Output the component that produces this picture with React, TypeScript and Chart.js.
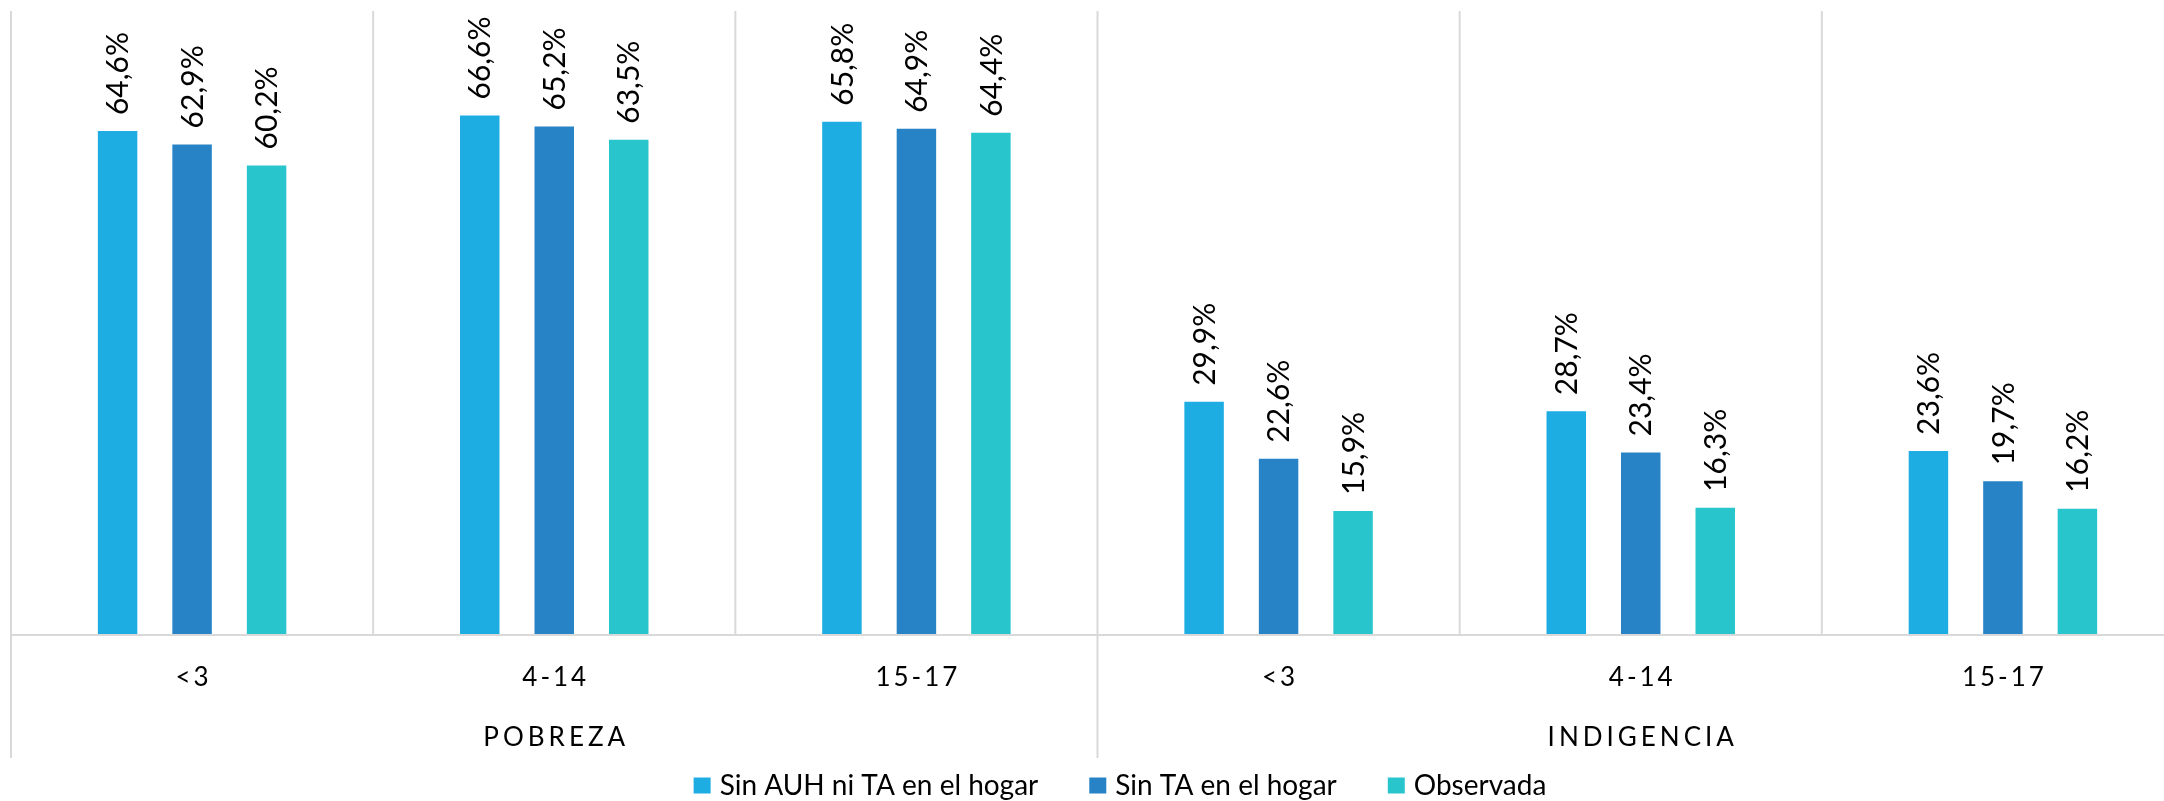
import React, { useEffect, useRef } from 'react';
import { Chart, registerables } from 'chart.js';

Chart.register(...registerables);

const categories = ['<3', '4-14', '15-17', '<3', '4-14', '15-17'];
const groups = ['POBREZA', 'INDIGENCIA'];
const seriesNames = ['Sin AUH ni TA en el hogar', 'Sin TA en el hogar', 'Observada'];
const sinAuhNiTa = [64.6, 66.6, 65.8, 29.9, 28.7, 23.6];
const sinTa = [62.9, 65.2, 64.9, 22.6, 23.4, 19.7];
const observada = [60.2, 63.5, 64.4, 15.9, 16.3, 16.2];
const colors = ['#1EADE3', '#2783C6', '#28C5CC'];

const W = 2186;
const H = 801;
const FONT = 'Lato, "Open Sans", sans-serif';

const fmt = (v: number) => v.toFixed(1).replace('.', ',') + '%';

const overlay = {
  id: 'overlay',
  beforeDatasetsDraw(chart: any) {
    const ctx = chart.ctx;
    const xs = chart.scales.x;
    const area = chart.chartArea;
    const n = categories.length;
    const cw = (area.right - area.left) / n;
    ctx.save();
    ctx.strokeStyle = '#D9D9D9';
    ctx.lineWidth = 2;
    for (let i = 0; i <= n; i++) {
      const px = i < n ? xs.getPixelForValue(i) - cw / 2 : xs.getPixelForValue(n - 1) + cw / 2;
      const long = i % 3 === 0;
      ctx.beginPath();
      ctx.moveTo(px, area.top);
      ctx.lineTo(px, long ? 758 : area.bottom);
      ctx.stroke();
    }
    ctx.restore();
  },
  afterDatasetsDraw(chart: any) {
    const ctx = chart.ctx;
    const xs = chart.scales.x;
    const area = chart.chartArea;
    ctx.save();
    // baseline
    ctx.strokeStyle = '#D9D9D9';
    ctx.lineWidth = 2;
    ctx.beginPath();
    ctx.moveTo(area.left, area.bottom);
    ctx.lineTo(area.right, area.bottom);
    ctx.stroke();

    // data labels
    ctx.fillStyle = '#000';
    ctx.font = `30px ${FONT}`;
    ctx.textAlign = 'left';
    ctx.textBaseline = 'middle';
    chart.data.datasets.forEach((ds: any, di: number) => {
      const meta = chart.getDatasetMeta(di);
      meta.data.forEach((el: any, i: number) => {
        ctx.save();
        ctx.translate(el.x + 1, el.y - 16);
        ctx.rotate(-Math.PI / 2);
        ctx.fillText(fmt(ds.data[i]), 0, 0);
        ctx.restore();
      });
    });

    // category labels
    ctx.font = `26px ${FONT}`;
    (ctx as any).letterSpacing = '3px';
    ctx.textAlign = 'center';
    categories.forEach((c, i) => {
      ctx.fillText(c, xs.getPixelForValue(i) + 1.5, 678);
    });
    // group labels
    (ctx as any).letterSpacing = '4px';
    groups.forEach((g, gi) => {
      const cx = (xs.getPixelForValue(gi * 3) + xs.getPixelForValue(gi * 3 + 2)) / 2;
      ctx.fillText(g, cx + 2, 738);
    });
    (ctx as any).letterSpacing = '0px';

    // legend
    ctx.font = `28px ${FONT}`;
    ctx.textAlign = 'left';
    const box = 17;
    const gapBT = 9;
    const gapItems = 51;
    const widths = seriesNames.map((s) => ctx.measureText(s).width);
    const total = widths.reduce((a, b) => a + b, 0) + seriesNames.length * (box + gapBT) + gapItems * (seriesNames.length - 1);
    let lx = 1120 - total / 2;
    const ly = 786;
    seriesNames.forEach((s, i) => {
      ctx.fillStyle = colors[i];
      ctx.fillRect(lx, ly - box / 2, box, box - 1);
      ctx.fillStyle = '#000';
      ctx.fillText(s, lx + box + gapBT, ly);
      lx += box + gapBT + widths[i] + gapItems;
    });
    ctx.restore();
  },
};

export default function App() {
  const ref = useRef<HTMLCanvasElement | null>(null);
  useEffect(() => {
    if (!ref.current) return;
    const chart = new Chart(ref.current, {
      type: 'bar',
      data: {
        labels: categories,
        datasets: [sinAuhNiTa, sinTa, observada].map((d, i) => ({
          label: seriesNames[i],
          data: d,
          backgroundColor: colors[i],
          borderWidth: 0,
          barPercentage: 0.53,
          categoryPercentage: 0.617,
        })),
      },
      options: {
        responsive: false,
        animation: false,
        devicePixelRatio: 1,
        layout: { padding: { left: 11, right: W - 2184, top: 11, bottom: H - 635 } },
        plugins: { legend: { display: false }, tooltip: { enabled: false } },
        scales: {
          x: { display: false },
          y: { display: false, min: 0, max: 80 },
        },
      },
      plugins: [overlay],
    });
    return () => chart.destroy();
  }, []);
  return (
    <div style={{ position: 'fixed', left: 0, top: 0, width: 2164, height: 801, overflow: 'hidden', background: '#fff' }}>
      <canvas ref={ref} width={W} height={H} style={{ display: 'block', width: W, height: H }} />
    </div>
  );
}
